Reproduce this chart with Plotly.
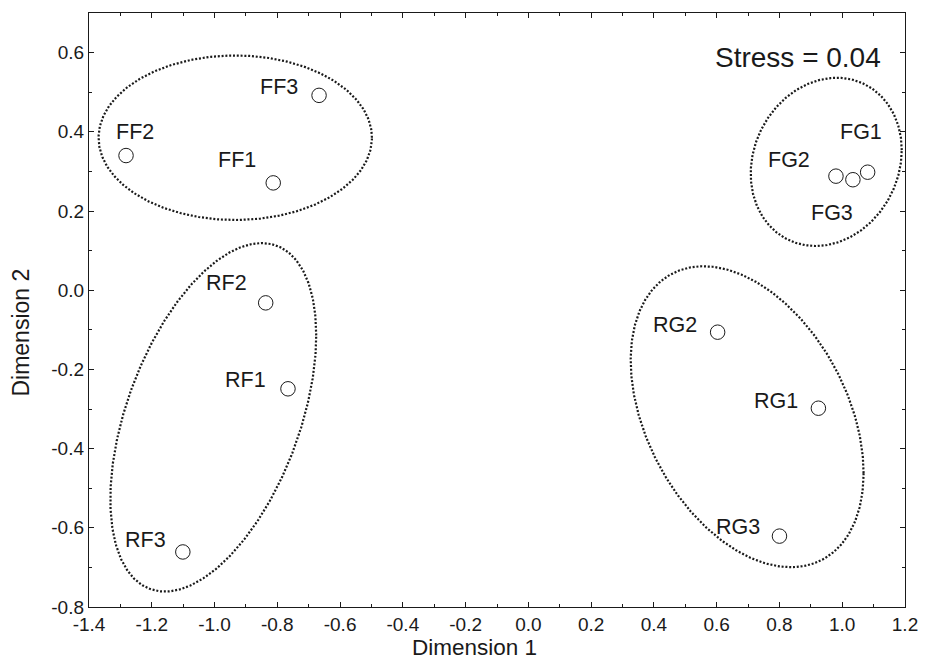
import numpy as np
import plotly.graph_objects as go

# ---- data ----
names = ["FF1", "FF2", "FF3", "FG1", "FG2", "FG3",
         "RF1", "RF2", "RF3", "RG1", "RG2", "RG3"]
dim1 = [-0.813, -1.282, -0.667, 1.081, 0.980, 1.034,
        -0.766, -0.837, -1.101, 0.924, 0.603, 0.800]
dim2 = [0.271, 0.340, 0.492, 0.298, 0.288, 0.279,
        -0.249, -0.032, -0.661, -0.298, -0.106, -0.621]

# label offsets in pixels (right, up) relative to the point
label_dx = [-36, 9, -40, -7, -47, -21, -42, -39, -37, -42, -43, -41]
label_dy = [23, 24, 8, 40, 16, -33, 9, 20, 12, 7, 7, 9]

# group ellipses: centre, half-extent x, half-extent y, correlation
ell_names = ["FF", "FG", "RF", "RG"]
ell_cx = [-0.934, 0.949, -1.004, 0.697]
ell_cy = [0.385, 0.324, -0.321, -0.3195]
ell_hx = [0.4355, 0.2406, 0.328, 0.371]
ell_hy = [0.2077, 0.2124, 0.440, 0.380]
ell_rho = [0.0, 0.14, 0.47, -0.375]

x_ticks = [-1.4, -1.2, -1.0, -0.8, -0.6, -0.4, -0.2, 0.0, 0.2, 0.4, 0.6, 0.8, 1.0, 1.2]
x_tick_text = ["-1.4", "-1.2", "-1.0", "-0.8", "-0.6", "-0.4", "-0.2", "0.0",
               "0.2", "0.4", "0.6", "0.8", "1.0", "1.2"]
y_ticks = [-0.8, -0.6, -0.4, -0.2, 0.0, 0.2, 0.4, 0.6]
y_tick_text = ["-0.8", "-0.6", "-0.4", "-0.2", "0.0", "0.2", "0.4", "0.6"]

x_title = "Dimension 1"
y_title = "Dimension 2"
stress_text = "Stress = 0.04"

FONT = "Liberation Sans, Arial, Helvetica, sans-serif"
INK = "#1a1a1a"

fig = go.Figure()

t = np.linspace(0, 2 * np.pi, 400)
for nm, cx, cy, hx, hy, rho in zip(ell_names, ell_cx, ell_cy, ell_hx, ell_hy, ell_rho):
    phi = np.arccos(rho)
    fig.add_trace(go.Scatter(
        x=cx + hx * np.cos(t), y=cy + hy * np.cos(t - phi),
        mode="lines", line=dict(color=INK, width=2.2, dash="2px,1.8px"),
        hoverinfo="skip", showlegend=False, name=nm))

fig.add_trace(go.Scatter(
    x=dim1, y=dim2, mode="markers", text=names,
    marker=dict(symbol="circle", size=14.5, color="white",
                line=dict(color=INK, width=1)),
    showlegend=False))

for nm, x, y, dx, dy in zip(names, dim1, dim2, label_dx, label_dy):
    fig.add_annotation(x=x, y=y, text=nm, showarrow=False,
                       xanchor="center", yanchor="middle",
                       xshift=dx, yshift=dy,
                       font=dict(family=FONT, size=21.5, color=INK))

fig.add_annotation(x=1.13, y=0.587, text=stress_text, showarrow=False,
                   xanchor="right", yanchor="middle",
                   font=dict(family=FONT, size=28, color=INK))

# axis titles
fig.add_annotation(xref="paper", yref="paper", x=0.472, y=0, yshift=-40,
                   text=x_title, showarrow=False, xanchor="center", yanchor="middle",
                   borderpad=0,
                   font=dict(family=FONT, size=22.5, color=INK))
fig.add_annotation(xref="paper", yref="paper", x=0, y=0.462, xshift=-68,
                   text=y_title, textangle=-90, showarrow=False,
                   xanchor="center", yanchor="middle",
                   font=dict(family=FONT, size=23, color=INK))

axis_common = dict(
    showline=True, linecolor=INK, linewidth=1.3, mirror="allticks",
    ticks="inside", ticklen=5, tickwidth=1.2, tickcolor=INK,
    showgrid=False, zeroline=False, automargin=False,
    tickfont=dict(family=FONT, size=19, color=INK),
)

fig.update_xaxes(range=[-1.4, 1.2], tickvals=x_ticks, ticktext=x_tick_text,
                 minor=dict(dtick=0.1, ticks="inside", ticklen=3, tickcolor=INK, showgrid=False),
                 **axis_common)
fig.update_yaxes(range=[-0.8, 0.7], tickvals=y_ticks, ticktext=y_tick_text,
                 minor=dict(dtick=0.1, ticks="inside", ticklen=3, tickcolor=INK, showgrid=False),
                 **axis_common)

fig.update_layout(
    width=930, height=662,
    margin=dict(l=89, r=25, t=13, b=55),
    paper_bgcolor="white", plot_bgcolor="white",
    font=dict(family=FONT, color=INK),
)

fig.write_html("out.html")
